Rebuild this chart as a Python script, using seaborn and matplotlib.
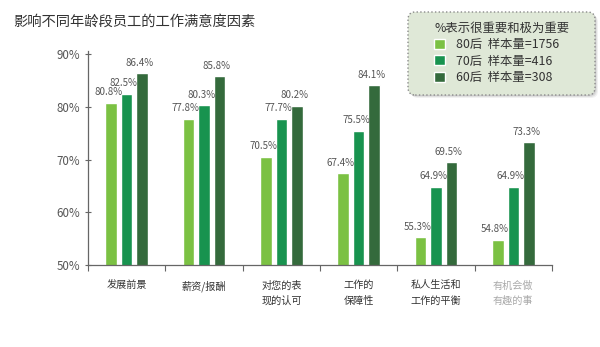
import matplotlib
matplotlib.use("Agg")
import matplotlib.pyplot as plt
import seaborn as sns
import pandas as pd
import numpy as np
from matplotlib.patches import FancyBboxPatch

categories = ["发展前景", "薪资/报酬", "对您的表\n现的认可", "工作的\n保障性", "私人生活和\n工作的平衡", "有机会做\n有趣的事"]
groups = ["80后  样本量=1756", "70后  样本量=416", "60后  样本量=308"]
v80 = [80.8, 77.8, 70.5, 67.4, 55.3, 54.8]
v70 = [82.5, 80.3, 77.7, 75.5, 64.9, 64.9]
v60 = [86.4, 85.8, 80.2, 84.1, 69.5, 73.3]
yticks = [50, 60, 70, 80, 90]
colors = ["#7bc143", "#18934f", "#346a3c"]
legend_title = "%表示很重要和极为重要"
title = "影响不同年龄段员工的工作满意度因素"

sns.set_theme(style="white")
plt.rcParams["font.family"] = ["Noto Sans CJK SC", "DejaVu Sans"]

rows = []
for g, vals in zip(groups, [v80, v70, v60]):
    for c, v in zip(categories, vals):
        rows.append({"cat": c, "grp": g, "val": v})
df = pd.DataFrame(rows)

fig = plt.figure(figsize=(6.0, 3.47), dpi=100)
ax = fig.add_axes([0.1467, 0.236, 0.7733, 0.617])
sns.barplot(data=df, x="cat", y="val", hue="grp", palette=colors, width=0.6, gap=0.25,
            ax=ax, saturation=1, legend=True)

ax.set_ylim(50, 90.6)
ax.set_xlim(-0.5, len(categories) - 0.5)
ax.set_yticks(yticks)
ax.set_yticklabels([f"{t}%" for t in yticks], color="#555555", fontsize=8.3)
ax.set_xlabel("")
ax.set_ylabel("")

for sp in ["top", "right"]:
    ax.spines[sp].set_visible(False)
for sp in ["left", "bottom"]:
    ax.spines[sp].set_color("#666666")
    ax.spines[sp].set_linewidth(0.9)

ax.tick_params(axis="y", direction="inout", length=5, width=0.8, color="#666666", pad=3, left=True)
ax.set_xticks(range(len(categories)))
ax.set_xticklabels(categories, fontsize=7.3, color="#333333", linespacing=1.65, va="top")
ax.tick_params(axis="x", which="major", length=0, pad=11)
ax.set_xticks(np.arange(-0.5, len(categories), 1.0), minor=True)
ax.tick_params(axis="x", which="minor", direction="out", length=4, width=0.8, color="#666666", bottom=True)
ax.get_xticklabels()[-1].set_color("#aaaaaa")

for cont in ax.containers:
    for p in cont.patches:
        x = p.get_x() + p.get_width() / 2
        h = p.get_height()
        ax.annotate(f"{h:.1f}%", (x, h), xytext=(-2, 4), textcoords="offset points",
                    ha="center", va="bottom", fontsize=7.0, color="#555555")

# legend box (rounded, dotted, with soft shadow)
bx, by, bw, bh = 408 / 600, 1 - 95 / 347, 187 / 600, 83 / 347
for i, a in enumerate([0.10, 0.14, 0.18]):
    off = (3 - i) / 600
    fig.patches.append(FancyBboxPatch((bx + off, by - off * 600 / 347), bw, bh,
                                      boxstyle="round,pad=0,rounding_size=0.012",
                                      mutation_aspect=600 / 347,
                                      transform=fig.transFigure, facecolor="#777777",
                                      edgecolor="none", alpha=a, zorder=0))
fig.patches.append(FancyBboxPatch((bx, by), bw, bh, boxstyle="round,pad=0,rounding_size=0.012",
                                  mutation_aspect=600 / 347,
                                  transform=fig.transFigure, facecolor="#dfe8d7",
                                  edgecolor="#8a8a8a", linestyle=":", linewidth=1.0, zorder=1))

handles, labels = ax.get_legend_handles_labels()
ax.get_legend().remove()
leg = fig.legend(handles, labels, title=legend_title, loc="upper left",
                 bbox_to_anchor=(434 / 600, 1 - 22 / 347), frameon=False,
                 fontsize=8.9, title_fontsize=8.9, handlelength=0.85, handleheight=0.85,
                 handletextpad=0.95, labelspacing=0.27, borderpad=0.0, borderaxespad=0.0)
leg._legend_box.align = "left"
leg.get_title().set_color("#333333")
for t in leg.get_texts():
    t.set_color("#333333")

fig.text(0.022, 0.937, title, fontsize=10.3, color="#333333", ha="left", va="center")

fig.savefig("out.png", dpi=100)
